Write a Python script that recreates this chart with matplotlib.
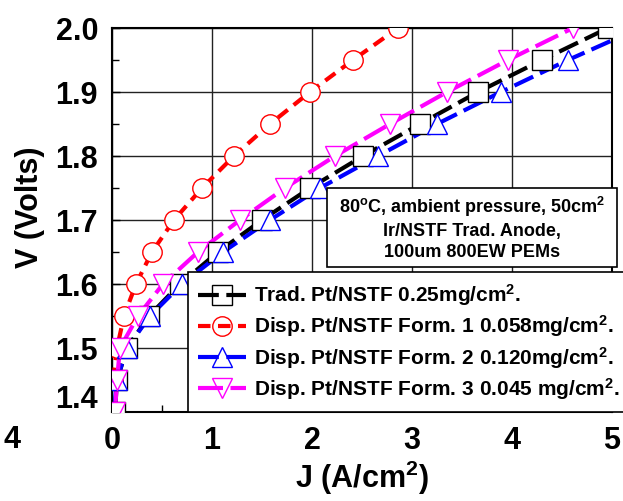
import matplotlib
matplotlib.use("Agg")
import matplotlib.pyplot as plt
from matplotlib.lines import Line2D
from matplotlib.patches import Rectangle
import matplotlib.transforms as mtransforms

plt.rcParams['font.family'] = ['Liberation Sans', 'DejaVu Sans']
plt.rcParams['font.weight'] = 'bold'
plt.rcParams['mathtext.fontset'] = 'custom'
plt.rcParams['mathtext.rm'] = 'Liberation Sans:bold'
plt.rcParams['mathtext.it'] = 'Liberation Sans:bold'
plt.rcParams['mathtext.bf'] = 'Liberation Sans:bold'

# ---- data ----
trad_V = [1.40, 1.45, 1.50, 1.55, 1.60, 1.65, 1.70, 1.75, 1.80, 1.85, 1.90, 1.95, 2.00]
trad_J = [0.03, 0.05, 0.15, 0.37, 0.68, 1.06, 1.50, 1.98, 2.51, 3.08, 3.66, 4.30, 4.96]

form1_V = [1.45, 1.50, 1.55, 1.60, 1.65, 1.70, 1.75, 1.80, 1.85, 1.90, 1.95, 2.00]
form1_J = [0.01, 0.05, 0.12, 0.24, 0.40, 0.62, 0.90, 1.22, 1.58, 1.98, 2.41, 2.86]

form2_V = [1.40, 1.45, 1.50, 1.55, 1.60, 1.65, 1.70, 1.75, 1.80, 1.85, 1.90, 1.95, 2.00]
form2_J = [0.02, 0.05, 0.15, 0.38, 0.70, 1.11, 1.58, 2.08, 2.66, 3.25, 3.89, 4.56, 5.28]

form3_V = [1.40, 1.45, 1.50, 1.55, 1.60, 1.65, 1.70, 1.75, 1.80, 1.85, 1.90, 1.95, 2.00]
form3_J = [0.03, 0.05, 0.08, 0.26, 0.51, 0.86, 1.28, 1.73, 2.23, 2.78, 3.35, 3.96, 4.61]

labels = [r"Trad. Pt/NSTF 0.25mg/cm$^2$.",
          r"Disp. Pt/NSTF Form. 1 0.058mg/cm$^2$.",
          r"Disp. Pt/NSTF Form. 2 0.120mg/cm$^2$.",
          r"Disp. Pt/NSTF Form. 3 0.045 mg/cm$^2$."]

x_ticks = [0, 1, 2, 3, 4, 5]
y_ticks = [1.4, 1.5, 1.6, 1.7, 1.8, 1.9, 2.0]

series = [
    (trad_J, trad_V, 'black', 's', (5, 1.8)),
    (form1_J, form1_V, 'red', 'o', (3, 1.8)),
    (form2_J, form2_V, 'blue', '^', (5, 1.8)),
    (form3_J, form3_V, '#ff00ff', 'v', (6, 1.8)),
]

W, H = 623, 501
fig = plt.figure(figsize=(W / 100, H / 100), dpi=100)
ax = fig.add_axes([112 / W, 1 - 412 / H, 500 / W, 384 / H])

# lines first
for J, V, c, m, d in series:
    ax.plot(J, V, color=c, lw=3, dashes=d, zorder=3)
# markers on top
for J, V, c, m, d in series:
    ax.plot(J, V, ls='none', marker=m, ms=14, mfc='white', mec=c, mew=1.0, zorder=4)

ax.set_xlim(0, 5)
ax.set_ylim(1.4, 2.0)
ax.set_xticks(x_ticks)
ax.set_xticklabels([str(t) for t in x_ticks])
ax.set_yticks(y_ticks)
ax.set_yticklabels(["%.1f" % t for t in y_ticks])
ax.set_xticks([0.5], minor=True)
ax.set_yticks([1.45, 1.55, 1.65, 1.75, 1.85, 1.95], minor=True)
ax.tick_params(which='major', direction='in', length=6, width=1, labelsize=22, pad=10)
ax.tick_params(which='minor', direction='in', length=5, width=1)
for lab in ax.get_xticklabels() + ax.get_yticklabels():
    lab.set_fontweight('bold')
ax.grid(True, which='major', color='#222222', lw=1.0)
ax.set_axisbelow(True)
for s in ax.spines.values():
    s.set_linewidth(1.5)

# shift the 1.4 label up a bit, like the reference
ylabs = ax.get_yticklabels()
off = mtransforms.ScaledTranslation(0, 15 / 100, fig.dpi_scale_trans)
ylabs[0].set_transform(ylabs[0].get_transform() + off)

ax.set_xlabel(r"J (A/cm$^2$)", fontsize=22, fontweight='bold')
ax.xaxis.set_label_coords(0.5, (412 - 497) / 384, transform=ax.transAxes)
ax.xaxis.label.set_va('bottom')
ax.set_ylabel("V (Volts)", fontsize=22, fontweight='bold', va='center')
ax.yaxis.set_label_coords((30 - 112) / 500, (412 - 207) / 384)

# annotation box
fig.patches.append(Rectangle((327 / W, 1 - 267 / H), (617 - 327) / W, (267 - 188) / H,
                             transform=fig.transFigure, facecolor='white',
                             edgecolor='black', lw=1.2, zorder=5))
fig.text(472 / W, 1 - 228 / H,
         "80$^\\mathrm{o}$C, ambient pressure, 50cm$^2$\nIr/NSTF Trad. Anode,\n100um 800EW PEMs",
         ha='center', va='center', fontsize=13, fontweight='bold', linespacing=1.3, zorder=6)

# legend
handles = [Line2D([], [], color=c, lw=3, dashes=d, marker=m, ms=14, mfc='none', mec=c, mew=1.0)
           for J, V, c, m, d in series]
leg = fig.legend(handles, labels, loc='upper left', bbox_to_anchor=(188 / W, 1 - 272 / H),
                 bbox_transform=fig.transFigure, fontsize=15, frameon=True, fancybox=False,
                 edgecolor='black', framealpha=1, borderaxespad=0, handlelength=2.3,
                 handletextpad=0.35, labelspacing=0.25, borderpad=0.5, numpoints=1)
leg.get_frame().set_linewidth(1.2)
for t in leg.get_texts():
    t.set_fontweight('bold')

# stray label at the left edge
fig.text(12 / W, 1 - 440 / H, "4", fontsize=22, fontweight='bold', ha='center', va='center')

fig.savefig("out.png", dpi=100)
